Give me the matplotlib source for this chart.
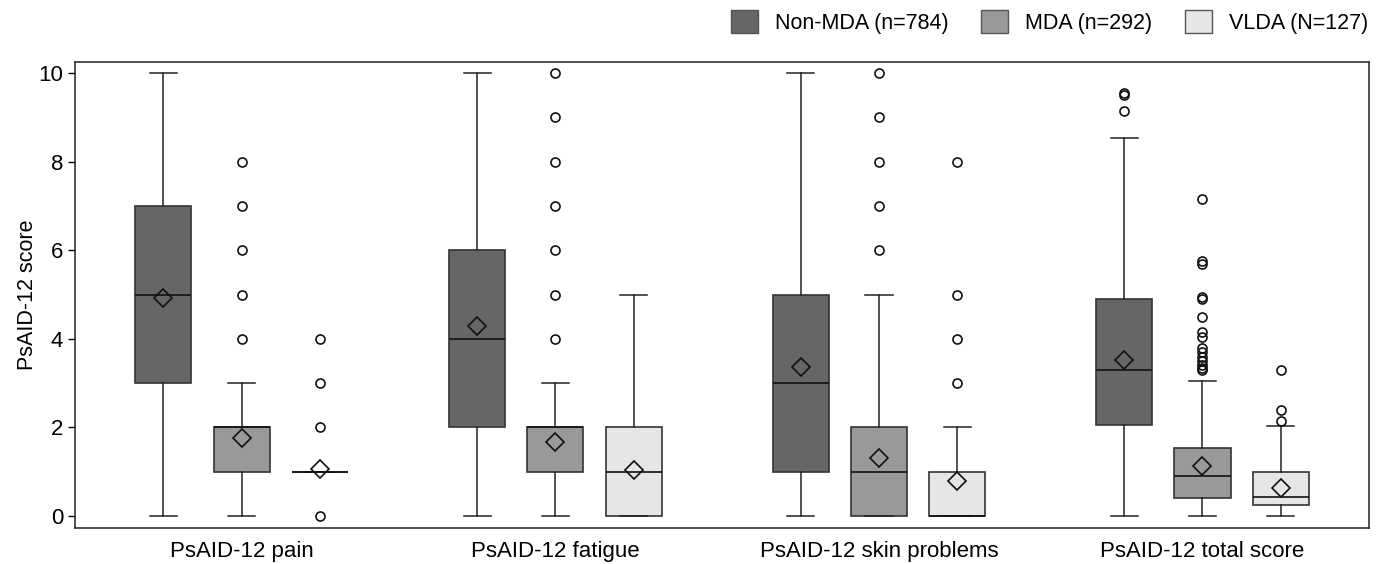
import matplotlib.pyplot as plt
from matplotlib.patches import Patch

plt.rcParams['font.family'] = ['Liberation Sans', 'DejaVu Sans']

categories = ['PsAID-12 pain', 'PsAID-12 fatigue', 'PsAID-12 skin problems', 'PsAID-12 total score']
groups = ['Non-MDA (n=784)', 'MDA (n=292)', 'VLDA (N=127)']
colors = ['#666666', '#999999', '#e6e6e6']

# per category: [Non-MDA, MDA, VLDA]; each (whislo, q1, med, q3, whishi)
box_stats = [
    [(0, 3, 5, 7, 10), (0, 1, 2, 2, 3), (1, 1, 1, 1, 1)],
    [(0, 2, 4, 6, 10), (0, 1, 2, 2, 3), (0, 0, 1, 2, 5)],
    [(0, 1, 3, 5, 10), (0, 0, 1, 2, 5), (0, 0, 0, 1, 2)],
    [(0, 2.06, 3.29, 4.89, 8.54), (0, 0.40, 0.90, 1.54, 3.04), (0, 0.24, 0.44, 0.99, 2.04)],
]
means = [
    [4.92, 1.76, 1.07],
    [4.29, 1.68, 1.05],
    [3.36, 1.30, 0.80],
    [3.52, 1.14, 0.64],
]
fliers = [
    [[], [4, 5, 6, 7, 8], [0, 2, 3, 4]],
    [[], [4, 5, 6, 7, 8, 9, 10], []],
    [[], [6, 7, 8, 9, 10], [3, 4, 5, 8]],
    [[9.54, 9.50, 9.14],
     [7.15, 5.75, 5.70, 4.95, 4.90, 4.50, 4.15, 4.05, 3.80, 3.70, 3.60, 3.50, 3.40, 3.35, 3.30],
     [3.29, 2.39, 2.15]],
]

fig = plt.figure(figsize=(13.78, 5.64), dpi=100)
ax = fig.add_axes([0.0544, 0.0638, 0.9391, 0.8262])

centers = [0, 0.98, 1.99, 3.0]
offsets = [-0.244, 0.0, 0.244]
for ci in range(len(categories)):
    for gi in range(len(groups)):
        lo, q1, med, q3, hi = box_stats[ci][gi]
        st = dict(whislo=lo, q1=q1, med=med, q3=q3, whishi=hi,
                  mean=means[ci][gi], fliers=fliers[ci][gi])
        ax.bxp([st], positions=[centers[ci] + offsets[gi]], widths=0.175,
               patch_artist=True, showmeans=True, manage_ticks=False,
               boxprops=dict(facecolor=colors[gi], edgecolor='#333333', linewidth=1.2),
               medianprops=dict(color='#111111', linewidth=1.2),
               whiskerprops=dict(color='#222222', linewidth=1.1),
               capprops=dict(color='#222222', linewidth=1.1),
               capwidths=0.085,
               meanprops=dict(marker='D', markerfacecolor='none', markeredgecolor='#111111',
                              markersize=9, markeredgewidth=1.2),
               flierprops=dict(marker='o', markerfacecolor='none', markeredgecolor='#111111',
                               markersize=6.5, markeredgewidth=1.2))

ax.set_xlim(-0.52, 3.52)
ax.set_ylim(-0.27, 10.25)
ax.set_xticks(centers)
ax.set_xticklabels(categories, fontsize=16)
ax.tick_params(axis='x', length=0, pad=9)
ax.set_yticks([0, 2, 4, 6, 8, 10])
ax.tick_params(axis='y', labelsize=16, length=5, width=1)
ax.set_ylabel('PsAID-12 score', fontsize=15.5, labelpad=0)
for s in ax.spines.values():
    s.set_linewidth(1.1)
    s.set_color('#222222')

handles = [Patch(facecolor=c, edgecolor='#555555', label=g) for c, g in zip(colors, groups)]
fig.legend(handles=handles, loc='upper right', bbox_to_anchor=(1368 / 1378, 1 - 10 / 564), ncol=3,
           frameon=False, fontsize=15.5, handlelength=1.25, handleheight=1.25,
           columnspacing=1.5, handletextpad=0.8, borderpad=0, borderaxespad=0)

plt.savefig('out.png', dpi=100)
